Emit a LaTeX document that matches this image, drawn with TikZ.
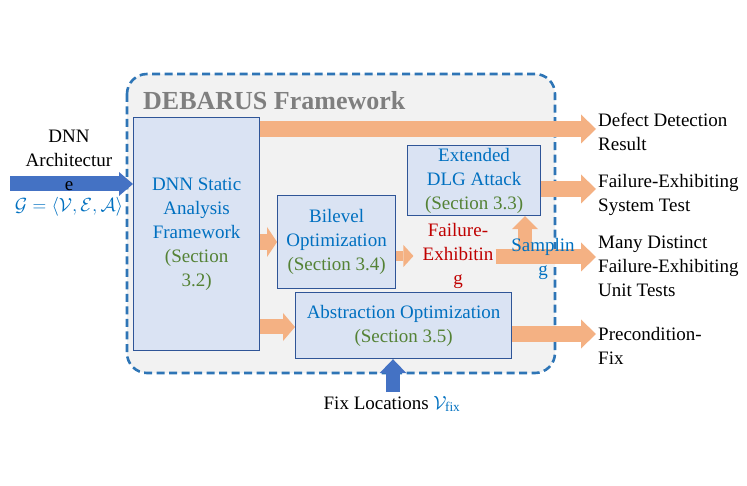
\RequirePackage{fix-cm}
\documentclass[tikz,border=0pt]{standalone}
\usepackage{fontspec}
\setmainfont{Liberation Serif}
\usetikzlibrary{arrows.meta}
\definecolor{boxfill}{HTML}{DAE3F3}
\definecolor{boxdraw}{HTML}{2F5597}
\definecolor{tblue}{HTML}{0070C0}
\definecolor{tgreen}{HTML}{548235}
\definecolor{tred}{HTML}{C00000}
\definecolor{oarr}{HTML}{F4B183}
\definecolor{barr}{HTML}{4472C4}
\definecolor{frameblue}{HTML}{2E75B6}
\definecolor{framefill}{HTML}{F2F2F2}
\definecolor{titlegray}{HTML}{7F7F7F}
\pgfdeclarelayer{bg}
\pgfdeclarelayer{arr}
\pgfsetlayers{bg,arr,main}
\tikzset{
  txt/.style={font=\fontsize{19}{24}\selectfont, inner sep=2pt, align=center},
  comp/.style={txt, draw=boxdraw, fill=boxfill, line width=1.2pt, anchor=north west, text=tblue},
  outtxt/.style={txt, align=left, anchor=west},
  frame/.style={draw=frameblue, fill=framefill, line width=2.6pt, dash pattern=on 8pt off 4.5pt, rounded corners=20pt},
  titletxt/.style={font=\fontsize{26}{30}\selectfont\bfseries, text=titlegray, anchor=west, inner sep=0pt},
  oarrow/.style n args={3}{draw=oarr, line width=#1, -{Triangle[length=#2,width=#3,line width=0pt]}},
  barrow/.style n args={3}{draw=barr, line width=#1, -{Triangle[length=#2,width=#3,line width=0pt]}}
}
\begin{document}
\begin{tikzpicture}[x=1pt,y=-1pt]
\useasboundingbox (0,0) rectangle (747,486);
\begin{pgfonlayer}{bg}
  \draw[frame] (127,74) rectangle (555,373);
\end{pgfonlayer}
\node[titletxt] (title) at (143,101) {DEBARUS Framework};

\node[comp, minimum width=126pt, minimum height=233pt] (dnn) at (133,117)
  {DNN Static\\Analysis\\Framework\\\textcolor{tgreen}{(Section}\\\textcolor{tgreen}{3.2)}};
\node[comp, minimum width=133pt, minimum height=70pt] (dlg) at (407,145)
  {Extended\\DLG Attack\\\textcolor{tgreen}{(Section 3.3)}};
\node[comp, minimum width=118pt, minimum height=93pt] (bil) at (277,195)
  {Bilevel\\Optimization\\\textcolor{tgreen}{(Section 3.4)}};
\node[comp, minimum width=216pt, minimum height=66pt] (abs) at (295,292)
  {Abstraction Optimization\\\textcolor{tgreen}{(Section 3.5)}};

\node[txt, text=tred] (fail) at (458,256) {Failure-\\Exhibitin\\g};
\node[txt, text=tblue] (samp) at (543,259) {Samplin\\g};

\node[outtxt] (defect) at (596,132) {Defect Detection\\Result};
\node[outtxt] (fest) at (596,195) {Failure-Exhibiting\\System Test};
\node[outtxt] (many) at (596,266) {Many Distinct\\Failure-Exhibiting\\Unit Tests};
\node[outtxt] (pre) at (596,346) {Precondition-\\Fix};

\node[txt] (inp) at (69,160) {DNN\\Architectur\\e};
\node[txt, text=tblue] (graph) at (69,207) {$\mathcal{G}=\langle\mathcal{V},\mathcal{E},\mathcal{A}\rangle$};
\node[txt] (fix) at (392,404) {Fix Locations \textcolor{tblue}{$\mathcal{V}_{\mathrm{fix}}$}};

\coordinate (sb) at (525,257);
\coordinate (inA) at (10,184);
\coordinate (fixA) at (393,392);

\begin{pgfonlayer}{arr}
  \draw[oarrow={16pt}{15pt}{29pt}] (dnn.east |- 0,129) -- (defect.west |- 0,129);
  \draw[oarrow={16pt}{15pt}{29pt}] (dlg.east |- 0,189) -- (fest.west |- 0,189);
  \draw[oarrow={15pt}{15pt}{29pt}] (fail.east |- 0,257) -- (many.west |- 0,257);
  \draw[oarrow={15pt}{15pt}{29pt}] (abs.east |- 0,334) -- (pre.west |- 0,334);
  \draw[oarrow={16pt}{10pt}{30pt}] (dnn.east |- 0,242) -- (bil.west |- 0,242);
  \draw[oarrow={15pt}{12pt}{28pt}] (dnn.east |- 0,327) -- (abs.west |- 0,327);
  \draw[oarrow={10pt}{10pt}{22pt}, shorten >=7pt] (bil.east |- 0,256) -- (fail.west |- 0,256);
  \draw[oarrow={14pt}{13pt}{26pt}] (sb) -- (sb |- dlg.south);
  \draw[barrow={15pt}{14pt}{24pt}] (inA) -- (dnn.west |- inA);
  \draw[barrow={14pt}{14pt}{27pt}] (fixA) -- (fixA |- abs.south);
\end{pgfonlayer}
\end{tikzpicture}
\end{document}
